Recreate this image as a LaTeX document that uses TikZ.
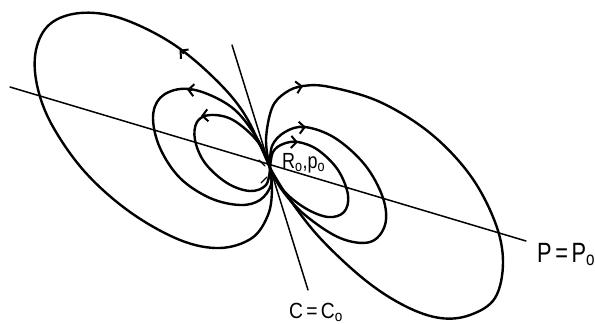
\documentclass[tikz,border=0pt]{standalone}
\usepackage{fontspec}
\setmainfont{Liberation Sans}
\usepackage{graphicx}
\usetikzlibrary{arrows.meta}
\begin{document}
\begin{tikzpicture}[x=1bp,y=-1bp,
  fieldloop/.style={line width=2.4bp, line cap=round, line join=round},
  axisline/.style={line width=1.5bp, line cap=round},
  tickmark/.style={line width=1.3bp, line cap=round},
  tipmark/.style={line width=2bp, -{Straight Barb[length=5.5bp,width=12bp,line width=2bp]}},
  lab/.style={inner sep=0pt, anchor=base west}]
\useasboundingbox (0,0) rectangle (595,323);
\coordinate (O) at (270,168);
% straight lines
\coordinate (P1) at (10,87); \coordinate (P2) at (526,241);
\coordinate (C1) at (232,45); \coordinate (C2) at (308,290);
\draw[axisline] (P1) -- (P2);
\draw[axisline] (C1) -- (C2);
% left loops
\draw[fieldloop] plot[smooth, tension=0.6] coordinates {(270,168) (245,115) (213,77) (170,42) (120,18) (80,13) (50,24) (36,50) (37,85) (52,125) (85,172) (130,212) (180,240) (220,248) (252,238) (268,215) (272,190) (270,168)};
\draw[fieldloop] plot[smooth, tension=0.6] coordinates {(270,168) (258,140) (235,110) (205,93) (180,89) (160,98) (153,118) (160,148) (180,178) (210,198) (240,205) (260,200) (271,185) (270,168)};
\draw[fieldloop] plot[smooth, tension=0.6] coordinates {(270,168) (258,142) (233,120) (210,115) (197,122) (195,140) (205,163) (227,183) (250,191) (266,185) (270,168)};
% right loops
\draw[fieldloop] plot[smooth, tension=0.6] coordinates {(270,168) (266,140) (272,108) (285,93) (303,86) (330,87) (380,102) (430,133) (470,175) (495,222) (503,262) (495,298) (470,315) (440,318) (405,306) (365,280) (320,238) (288,197) (270,168)};
\draw[fieldloop] plot[smooth, tension=0.6] coordinates {(270,168) (272,146) (285,132) (305,127) (335,138) (365,165) (383,198) (385,225) (370,242) (340,238) (305,215) (282,190) (270,168)};
\draw[fieldloop] plot[smooth, tension=0.6] coordinates {(270,168) (273,152) (283,144) (298,142) (318,150) (338,170) (348,195) (344,212) (328,217) (305,208) (283,190) (270,168)};
% arrow heads
\coordinate (a1s) at (184,53.5); \coordinate (a1e) at (179.5,49.8);
\coordinate (a2s) at (192,90); \coordinate (a2e) at (187,89.5);
\coordinate (a3s) at (206,115.5); \coordinate (a3e) at (201,116);
\coordinate (a4s) at (298,87); \coordinate (a4e) at (303,86);
\coordinate (a5s) at (301,127.5); \coordinate (a5e) at (306,127);
\coordinate (a6s) at (293,142); \coordinate (a6e) at (298,142.2);
\draw[tipmark] (a1s) -- (a1e);
\draw[tipmark] (a2s) -- (a2e);
\draw[tipmark] (a3s) -- (a3e);
\draw[tipmark] (a4s) -- (a4e);
\draw[tipmark] (a5s) -- (a5e);
\draw[tipmark] (a6s) -- (a6e);
% small ticks at the centre
\coordinate (t1a) at (259,160); \coordinate (t1b) at (265,166);
\coordinate (t2a) at (261,183); \coordinate (t2b) at (267,177);
\draw[tickmark] (t1a) -- (t1b);
\draw[tickmark] (t2a) -- (t2b);
% labels
\node[lab, font=\fontsize{22}{22}\selectfont] (rp) at (282,168) {\scalebox{0.82}[1]{R\textsubscript{o},p\textsubscript{o}}};
\node[lab, font=\fontsize{28}{28}\selectfont] (pp) at (537,262) {\scalebox{0.78}[1]{P\,=\,P\textsubscript{o}}};
\node[lab, font=\fontsize{22}{22}\selectfont] (cc) at (289,318) {\scalebox{0.88}[1]{C\,=\,C\textsubscript{o}}};
\end{tikzpicture}
\end{document}
